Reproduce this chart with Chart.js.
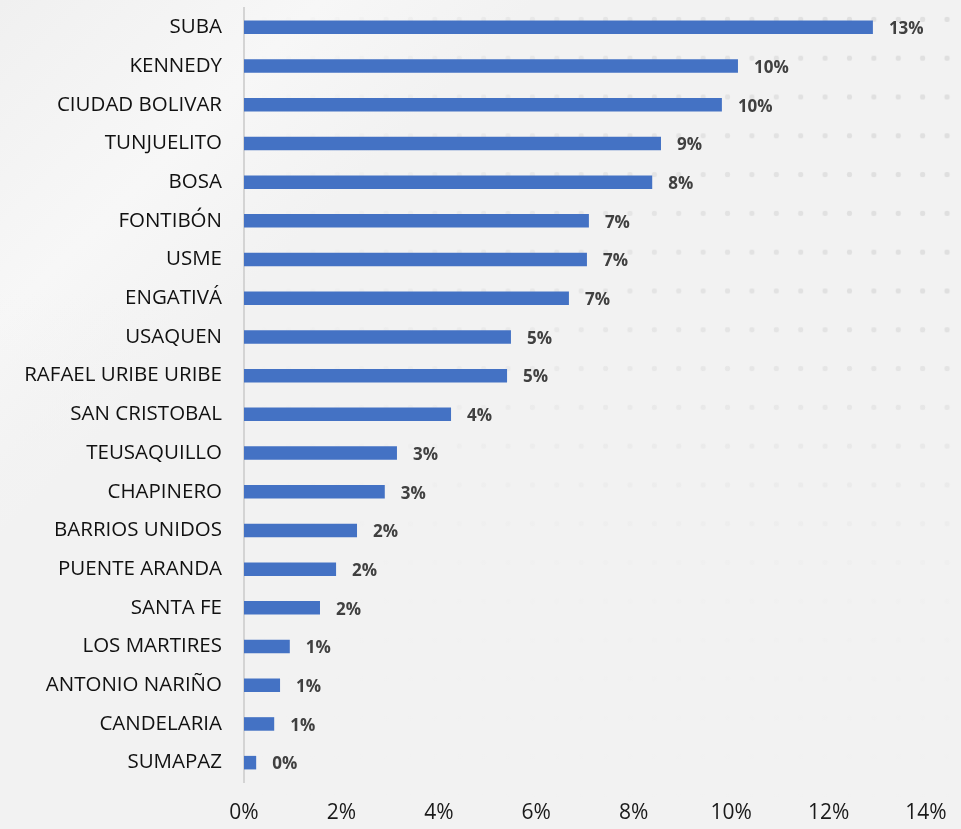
<!DOCTYPE html>
<html>
<head>
<meta charset="utf-8">
<script src="https://cdn.jsdelivr.net/npm/chart.js@4/dist/chart.umd.min.js"></script>
<style>
  html, body { margin: 0; padding: 0; background: #f2f2f2; }
  #wrap { position: relative; width: 961px; height: 829px; overflow: hidden;
    background: linear-gradient(135deg, #f0f0f0 0%, #f7f7f7 18%, #f2f2f2 30%, #f2f2f2 100%); }
  #dots { position: absolute; inset: 0;
    background-image: radial-gradient(circle, rgba(0,0,0,0.08) 2.5px, transparent 3px);
    background-size: 24.4px 38.8px; background-position: 8px 0px;
    -webkit-mask-image: linear-gradient(90deg, transparent 25%, rgba(0,0,0,0.6) 60%, #000 100%);
    mask-image: linear-gradient(90deg, transparent 25%, rgba(0,0,0,0.6) 60%, #000 100%); }
  #dotsfade { position: absolute; inset: 0;
    background: linear-gradient(180deg, rgba(242,242,242,0) 35%, rgba(242,242,242,0.9) 70%, #f2f2f2 100%); }
  canvas { position: absolute; left: 0; top: 0; }
</style>
</head>
<body>
<div id="wrap">
  <div id="dots"></div>
  <div id="dotsfade"></div>
  <canvas id="c" width="961" height="829"></canvas>
</div>
<script>
const localidades = ["SUBA","KENNEDY","CIUDAD BOLIVAR","TUNJUELITO","BOSA","FONTIBÓN","USME","ENGATIVÁ","USAQUEN","RAFAEL URIBE URIBE","SAN CRISTOBAL","TEUSAQUILLO","CHAPINERO","BARRIOS UNIDOS","PUENTE ARANDA","SANTA FE","LOS MARTIRES","ANTONIO NARIÑO","CANDELARIA","SUMAPAZ"];
const porcentajes = [12.91,10.14,9.81,8.56,8.38,7.08,7.04,6.67,5.48,5.40,4.25,3.14,2.89,2.32,1.89,1.56,0.94,0.74,0.62,0.25];
const xTicks = [0,2,4,6,8,10,12,14];

const valueLabels = {
  id: 'valueLabels',
  afterDatasetsDraw(chart) {
    const ctx = chart.ctx;
    const meta = chart.getDatasetMeta(0);
    ctx.save();
    ctx.font = 'bold 17px "Open Sans", Lato, sans-serif';
    ctx.fillStyle = '#404040';
    ctx.textAlign = 'left';
    ctx.textBaseline = 'middle';
    meta.data.forEach((bar, i) => {
      ctx.fillText(Math.round(porcentajes[i]) + '%', bar.x + 16, bar.y + 2);
    });
    ctx.restore();
  }
};

new Chart(document.getElementById('c'), {
  type: 'bar',
  data: {
    labels: localidades,
    datasets: [{
      data: porcentajes,
      backgroundColor: '#4472C4',
      borderColor: '#4472C4',
      borderWidth: 0,
      barPercentage: 0.7,
      categoryPercentage: 0.5
    }]
  },
  options: {
    indexAxis: 'y',
    responsive: false,
    animation: false,
    layout: { padding: { top: 8, right: 35, left: 0, bottom: 0 } },
    plugins: { legend: { display: false }, tooltip: { enabled: false } },
    scales: {
      x: {
        min: 0, max: 14,
        afterBuildTicks(scale) { scale.ticks = xTicks.map(v => ({ value: v })); },
        afterFit(scale) { scale.height = 47; scale.paddingLeft = 0; scale.paddingRight = 0; },
        grid: { display: false, drawTicks: false },
        border: { display: false },
        ticks: {
          padding: 18,
          color: '#1a1a1a',
          font: { family: '"Open Sans", Lato, sans-serif', size: 21 },
          callback: v => v + '%'
        }
      },
      y: {
        afterFit(scale) { scale.width = 244; scale.paddingTop = 0; scale.paddingBottom = 0; },
        grid: { display: false, drawTicks: false },
        border: { display: true, color: '#d4d4d4', width: 2 },
        ticks: {
          padding: 22,
          color: '#111111',
          font: { family: '"Open Sans", Lato, sans-serif', size: 20.5 }
        }
      }
    }
  },
  plugins: [valueLabels]
});
</script>
</body>
</html>
